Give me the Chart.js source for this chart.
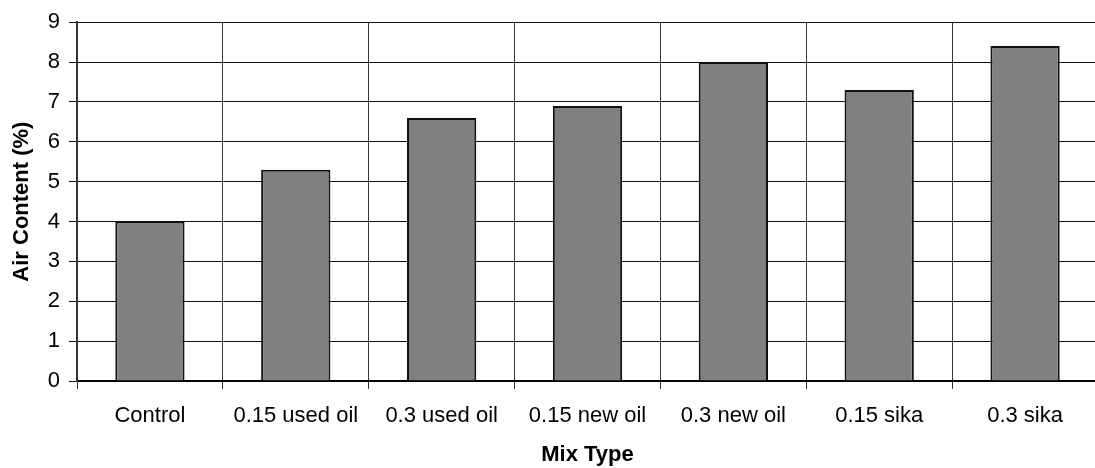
<!DOCTYPE html>
<html>
<head>
<meta charset="utf-8">
<script src="https://cdn.jsdelivr.net/npm/chart.js@4/dist/chart.umd.min.js"></script>
<style>
  html, body { margin: 0; padding: 0; background: #fff; overflow: hidden; }
  #wrap { position: relative; width: 1095px; height: 468px; overflow: hidden; }
  canvas { position: absolute; left: 0; top: 0; }
</style>
</head>
<body>
<div id="wrap"><canvas id="chart" width="1102" height="468"></canvas></div>
<script>
// Air content of each concrete mix
const mixTypes = ['Control', '0.15 used oil', '0.3 used oil', '0.15 new oil', '0.3 new oil', '0.15 sika', '0.3 sika'];
const airContent = [4.0, 5.3, 6.6, 6.9, 8.0, 7.3, 8.4];
const yTicks = [0, 1, 2, 3, 4, 5, 6, 7, 8, 9];

const FONT = "'Liberation Sans', Arial, sans-serif";

new Chart(document.getElementById('chart'), {
  type: 'bar',
  data: {
    labels: mixTypes,
    datasets: [{
      data: airContent,
      backgroundColor: '#808080',
      borderColor: '#111111',
      borderWidth: 2,
      borderSkipped: 'bottom',
      categoryPercentage: 1.0,
      barPercentage: 0.475
    }]
  },
  options: {
    responsive: false,
    animation: false,
    devicePixelRatio: 1,
    layout: { padding: { top: 22, right: 4, bottom: 0, left: 0 } },
    plugins: { legend: { display: false }, tooltip: { enabled: false } },
    scales: {
      x: {
        grid: { display: true, color: '#333333', lineWidth: 1, tickLength: 8, offset: true },
        border: { display: true, color: '#000000', width: 2 },
        ticks: { color: '#000', font: { family: FONT, size: 22 }, padding: 14, maxRotation: 0, autoSkip: false },
        title: { display: true, text: 'Mix Type', color: '#000', font: { family: FONT, size: 22, weight: 'bold' }, padding: { top: 0, bottom: 0 } },
        afterFit: (s) => { s.height = 87; }
      },
      y: {
        min: 0,
        max: 9,
        afterBuildTicks: (s) => { s.ticks = yTicks.map(v => ({ value: v })); },
        grid: { color: '#111111', lineWidth: 1, tickLength: 8 },
        border: { display: true, color: '#333333', width: 2 },
        ticks: { color: '#000', font: { family: FONT, size: 22 }, padding: 9 },
        title: { display: true, text: 'Air Content (%)', color: '#000', font: { family: FONT, size: 22, weight: 'bold' }, padding: { top: 9, bottom: 0 } },
        afterFit: (s) => { s.width = 77; }
      }
    }
  }
});
</script>
</body>
</html>
